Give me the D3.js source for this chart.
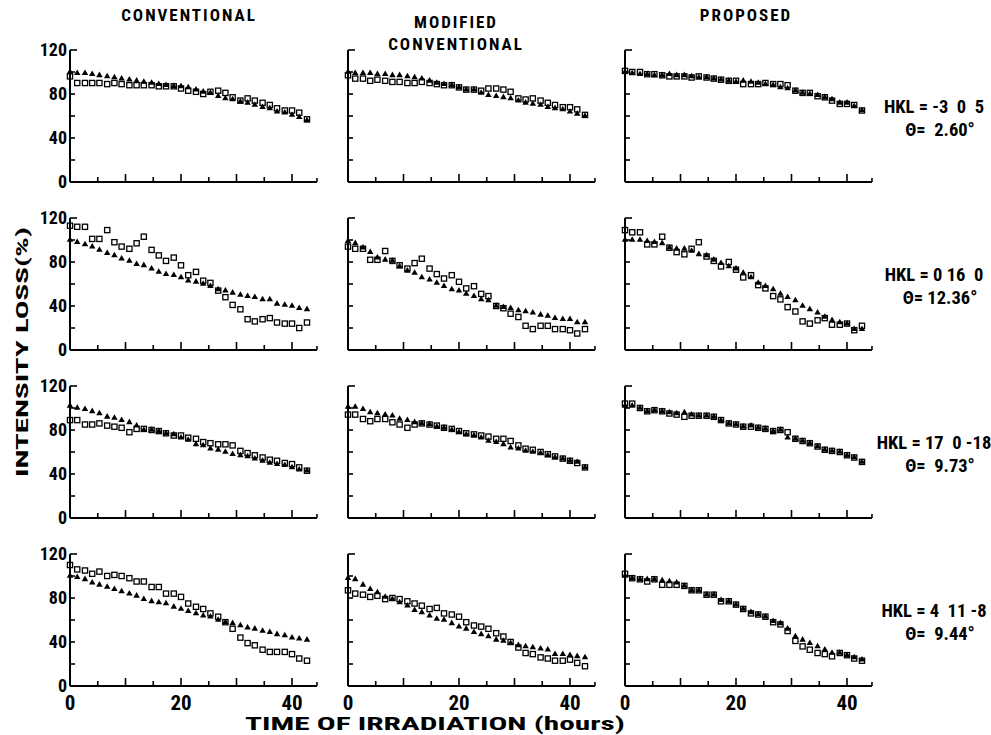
<!DOCTYPE html>
<html><head><meta charset="utf-8">
<script src="https://cdn.jsdelivr.net/npm/d3@7/dist/d3.min.js"></script>
<style>body{margin:0;background:#fff}svg text{font-family:'Liberation Sans Narrow','Arial Narrow','Roboto Condensed','Liberation Sans',Arial,sans-serif;font-weight:bold;fill:#000}</style>
</head><body>
<svg id="c" width="991" height="735"></svg>
<script>
// ---------- data ----------
const hours = [0,1.3,2.7,4,5.3,6.7,8,9.3,10.7,12,13.3,14.7,16,17.3,18.7,20,21.3,22.7,24,25.3,26.7,28,29.3,30.7,32,33.3,34.7,36,37.3,38.7,40,41.3,42.7];
const methodTitles = [["CONVENTIONAL"], ["MODIFIED","CONVENTIONAL"], ["PROPOSED"]];
const hklLabels = ["HKL = -3  0  5", "HKL = 0 16  0", "HKL = 17  0 -18", "HKL = 4  11 -8"];
const thetaLabels = ["Θ=  2.60°", "Θ= 12.36°", "Θ=  9.73°", "Θ=  9.44°"];
const yTickValues = [0,20,40,60,80,100,120];
const yTickLabels = [0,40,80,120];
const xTickValues = [5,10,15,20,25,30,35,40];
const xTickLabels = [0,20,40];

// row 1: HKL -3 0 5
const r1ConvTri = [100,99,99,98,97,96,95,94,93,92,91,90,89,88,87,87,86,84,82,81,78,76,75,73,72,70,68,67,64,63,61,59,56];
const r1ConvSq  = [96,90,90,90,90,89,90,89,88,88,88,88,87,87,87,85,83,82,80,82,83,81,77,74,76,74,72,70,67,65,65,63,57];
const r1ModTri  = [100,99,99,99,98,98,97,97,96,95,94,92,90,89,88,86,84,84,81,79,78,77,76,74,72,71,70,68,67,66,64,62,60];
const r1ModSq   = [97,94,94,92,93,92,91,91,90,90,91,90,89,88,88,86,84,84,83,85,85,84,82,76,75,76,74,72,70,68,68,66,61];
const r1PropTri = [100,99,98,98,97,97,98,97,97,96,95,95,94,93,92,91,92,91,90,89,88,86,85,83,81,80,79,77,75,72,72,69,65];
const r1PropSq  = [101,100,100,98,98,97,96,96,96,95,96,95,94,93,92,92,89,89,89,90,89,89,88,83,81,81,78,77,74,71,71,70,65];
// row 2: HKL 0 16 0
const r2ConvTri = [100,98,96,94,91,88,86,83,81,78,77,74,71,69,68,66,63,62,60,58,55,54,52,50,49,48,46,46,42,41,40,38,37];
const r2ConvSq  = [113,112,112,101,101,109,98,94,92,97,103,91,86,81,84,77,68,71,63,61,54,48,41,37,28,26,28,29,25,24,24,20,25];
const r2ModTri  = [99,97,93,89,84,82,81,76,72,70,66,64,61,58,55,54,51,49,46,45,40,39,38,36,35,34,32,31,29,28,28,25,25];
const r2ModSq   = [94,92,92,82,82,90,81,77,74,79,83,74,69,65,68,62,56,58,51,49,40,38,33,30,22,19,22,22,19,19,18,15,19];
const r2PropTri = [100,100,100,99,98,97,93,92,92,90,87,86,82,79,76,74,70,66,61,58,55,51,48,45,40,37,34,30,27,25,24,19,19];
const r2PropSq  = [109,107,107,96,96,103,93,89,87,92,98,85,81,76,80,73,66,68,59,56,49,46,39,35,26,24,27,29,23,23,24,18,22];
// row 3: HKL 17 0 -18
const r3ConvTri = [102,100,99,97,95,92,91,89,87,84,80,80,79,77,76,73,71,67,66,63,62,60,58,57,56,54,52,50,49,48,46,44,43];
const r3ConvSq  = [89,89,85,85,86,84,83,82,78,81,81,80,79,77,75,75,73,72,69,68,67,67,66,61,59,57,55,53,52,50,49,46,43];
const r3ModTri  = [101,101,99,96,95,94,93,90,89,87,86,85,83,82,80,78,76,75,73,70,69,67,64,63,61,60,59,57,55,54,52,51,46];
const r3ModSq   = [94,94,90,88,90,90,87,85,82,85,86,85,84,82,81,79,77,76,75,74,72,72,70,66,63,62,60,58,56,54,52,50,46];
const r3PropTri = [102,102,100,97,98,97,96,95,96,94,93,93,92,89,86,85,83,84,82,81,79,80,73,72,70,68,65,62,61,60,57,55,51];
const r3PropSq  = [104,104,100,97,98,97,95,94,92,93,93,93,92,89,86,85,83,83,82,81,79,80,78,72,70,68,65,62,61,60,57,55,51];
// row 4: HKL 4 11 -8
const r4ConvTri = [100,99,97,94,92,90,88,86,84,82,79,77,76,75,72,70,68,66,64,63,60,58,57,55,53,52,50,49,47,46,44,43,42];
const r4ConvSq  = [110,106,105,102,104,100,101,100,98,95,95,90,90,84,84,81,75,72,70,66,63,58,52,44,39,37,33,31,31,31,29,25,23];
const r4ModTri  = [98,97,92,88,85,81,79,76,73,69,67,64,61,60,57,54,52,49,47,45,42,41,39,37,36,35,34,33,29,29,28,27,26];
const r4ModSq   = [87,84,83,81,82,79,80,79,77,75,73,70,71,66,65,63,58,55,54,52,48,45,40,35,30,29,26,25,23,23,24,21,18];
const r4PropTri = [100,98,97,97,97,96,95,94,91,87,87,83,83,78,77,74,70,67,65,63,59,57,52,45,42,39,36,33,30,30,28,26,24];
const r4PropSq  = [102,98,97,95,97,92,92,92,91,87,87,83,83,77,77,74,70,66,65,63,58,56,50,41,36,33,30,29,27,30,28,25,23];

const grid = [
  [[r1ConvTri,r1ConvSq],[r1ModTri,r1ModSq],[r1PropTri,r1PropSq]],
  [[r2ConvTri,r2ConvSq],[r2ModTri,r2ModSq],[r2PropTri,r2PropSq]],
  [[r3ConvTri,r3ConvSq],[r3ModTri,r3ModSq],[r3PropTri,r3PropSq]],
  [[r4ConvTri,r4ConvSq],[r4ModTri,r4ModSq],[r4PropTri,r4PropSq]]
];

// ---------- layout ----------
const svg = d3.select("#c");
const colX0 = [70, 348, 625];
const rowY0 = [182, 350, 518, 686];
const plotW = 222;   // width for 40 h
const plotH = 132;   // height for 120 %
const xMax = 44.5;

grid.forEach((row, r) => {
  row.forEach((pair, c) => {
    const x = d3.scaleLinear().domain([0, 40]).range([colX0[c], colX0[c] + plotW]);
    const y = d3.scaleLinear().domain([0, 120]).range([rowY0[r], rowY0[r] - plotH]);
    const g = svg.append("g");

    g.append("line").attr("x1", x(0)).attr("x2", x(0)).attr("y1", y(0)).attr("y2", y(120))
      .attr("stroke", "#000").attr("stroke-width", 2);
    g.append("line").attr("x1", x(0)).attr("x2", x(xMax)).attr("y1", y(0)).attr("y2", y(0))
      .attr("stroke", "#000").attr("stroke-width", 2);

    g.selectAll(".yt").data(yTickValues).join("line")
      .attr("x1", x(0)).attr("x2", d => x(0) + (d === 120 ? 7 : 5))
      .attr("y1", d => y(d)).attr("y2", d => y(d))
      .attr("stroke", "#000").attr("stroke-width", 1.6);
    g.selectAll(".xt").data(xTickValues).join("line")
      .attr("x1", d => x(d)).attr("x2", d => x(d))
      .attr("y1", y(0)).attr("y2", d => y(0) - (d % 10 === 0 ? 8 : 5))
      .attr("stroke", "#000").attr("stroke-width", 1.6);
    g.append("line").attr("x1", x(xMax)).attr("x2", x(xMax)).attr("y1", y(0)).attr("y2", y(0) - 4)
      .attr("stroke", "#000").attr("stroke-width", 1.6);

    if (c === 0) {
      g.selectAll(".yl").data(yTickLabels).join("text")
        .attr("x", x(0) - 3).attr("y", d => y(d)).attr("dy", "0.36em")
        .attr("text-anchor", "end").attr("font-size", 18).text(d => d);
    }
    if (r === 3) {
      g.selectAll(".xl").data(xTickLabels).join("text")
        .attr("x", d => x(d)).attr("y", y(0) + 24)
        .attr("text-anchor", "middle").attr("font-size", 21).text(d => d);
    }

    const [tri, sq] = pair;
    g.selectAll(".sq").data(sq).join("rect")
      .attr("x", (d, i) => x(hours[i]) - 2.6).attr("y", d => y(d) - 2.6)
      .attr("width", 5.2).attr("height", 5.2)
      .attr("fill", "none").attr("stroke", "#000").attr("stroke-width", 1.3);
    g.selectAll(".tr").data(tri).join("path")
      .attr("d", d3.symbol().type(d3.symbolTriangle).size(18))
      .attr("transform", (d, i) => `translate(${x(hours[i])},${y(d)})`)
      .attr("fill", "#000");
  });
});

// column titles
const titleCenters = [189, 456, 746];
methodTitles.forEach((lines, c) => {
  lines.forEach((t, k) => {
    svg.append("text").attr("x", titleCenters[c])
      .attr("y", lines.length === 1 ? 21 : 28 + k * 22)
      .attr("text-anchor", "middle").attr("font-size", 17)
      .attr("letter-spacing", 2).text(t);
  });
});

// HKL labels
hklLabels.forEach((t, r) => {
  svg.append("text").attr("x", 934).attr("y", rowY0[r] - 69)
    .attr("text-anchor", "middle").attr("font-size", 18.5)
    .style("white-space", "pre").text(t);
  svg.append("text").attr("x", 940).attr("y", rowY0[r] - 46)
    .attr("text-anchor", "middle").attr("font-size", 18.5)
    .style("white-space", "pre").text(thetaLabels[r]);
});

// axis titles
svg.append("text").attr("transform", "translate(28,352) rotate(-90)")
  .attr("text-anchor", "middle").attr("font-size", 17)
  .attr("textLength", 250).attr("lengthAdjust", "spacingAndGlyphs")
  .text("INTENSITY LOSS(%)");
svg.append("text").attr("x", 435).attr("y", 730)
  .attr("text-anchor", "middle").attr("font-size", 18)
  .attr("textLength", 380).attr("lengthAdjust", "spacingAndGlyphs")
  .text("TIME OF IRRADIATION (hours)");
</script>
</body></html>
